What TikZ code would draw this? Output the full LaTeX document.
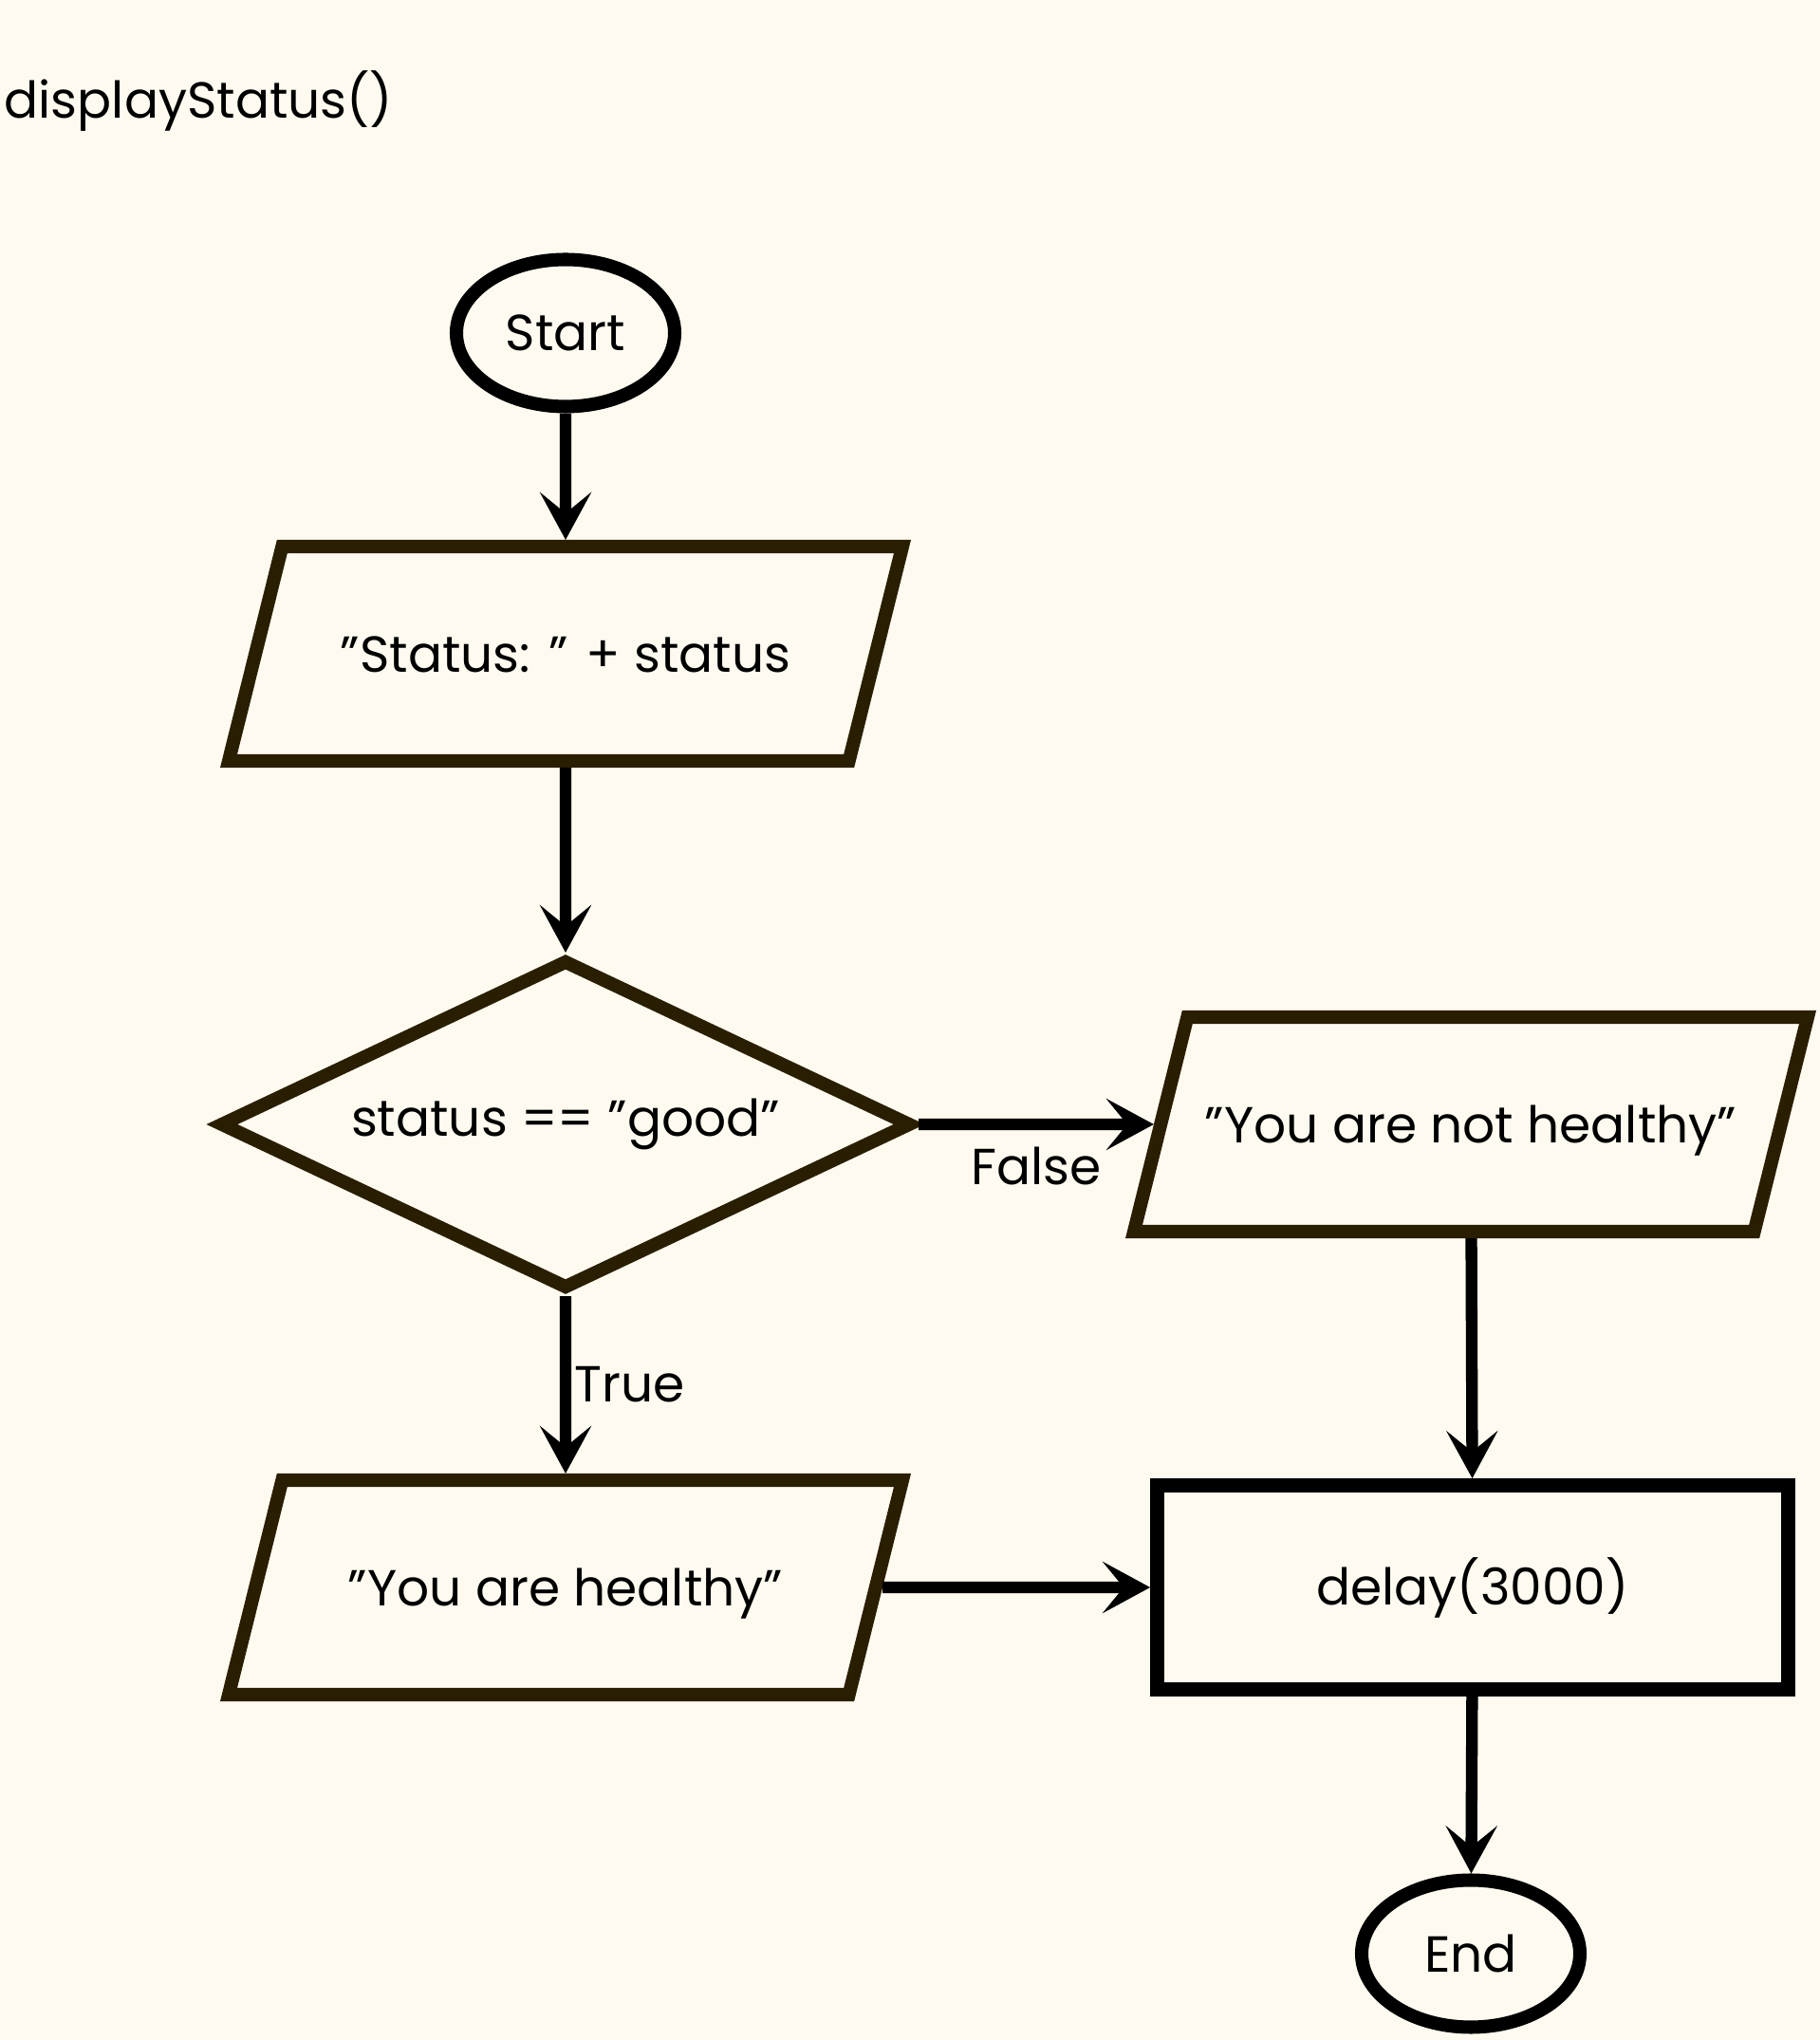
\documentclass[tikz,border=0pt]{standalone}
\usepackage{fontspec}
\setmainfont{Poppins}
\usepackage{tikz}
\usetikzlibrary{shapes.geometric,arrows.meta}
\definecolor{bgcream}{HTML}{FEFAEF}
\definecolor{flowbrown}{HTML}{2A1E00}

\begin{document}
\begin{tikzpicture}[
  font=\fontsize{15.2}{18}\selectfont,
  terminal/.style={draw=black, ellipse, line width=4pt, minimum width=2.3cm, minimum height=1.55cm, inner sep=0pt},
  iobox/.style={draw=flowbrown, trapezium, trapezium stretches body=true, trapezium left angle=76, trapezium right angle=104, line width=4pt, minimum width=7.1cm, text height=0.42cm, text depth=0.02cm, inner xsep=0pt, inner ysep=0.91cm},
  decision/.style={draw=flowbrown, diamond, aspect=2.1, line width=4pt, minimum width=7.3cm, minimum height=3.48cm, inner sep=0pt},
  process/.style={draw=black, rectangle, line width=4.2pt, minimum width=6.65cm, minimum height=2.15cm},
  flow/.style={draw=black, line width=3.5pt, -{Stealth[length=5mm, width=5.4mm, inset=2.2mm]}}
]
% Background
\fill[bgcream] (0,0) rectangle (19.18,21.5);
% Title
\node[anchor=west, inner sep=0pt] (title) at (0.04,20.43) {displayStatus()};
% Start
\node[terminal] (start) at (5.96,17.99) {Start};
% Status output
\node[iobox] (status-out) at (5.96,14.61) {”Status: ” + status};
% Decision
\node[decision] (check) at (5.96,9.65) {status == ”good”};
\node[iobox] (not-healthy) at (15.50,9.65) {”You are not healthy”};
\node[iobox] (healthy) at (5.96,4.77) {”You are healthy”};
% Delay
\node[process] (delay) at (15.52,4.77) {delay(3000)};
% End
\node[terminal] (end) at (15.50,0.91) {End};
% Arrows
\draw[flow] (start) -- (status-out);
\draw[flow] (status-out) -- (check);
\draw[flow] (check.east) -- node[below, inner sep=5pt] (false-lbl) {False} (not-healthy);
\draw[flow] (check.south) -- node[right, inner sep=1pt] (true-lbl) {True} (healthy);
\draw[flow] (healthy) -- (delay);
\draw[flow] (not-healthy) -- (delay);
\draw[flow] (delay) -- (end);
\end{tikzpicture}
\end{document}
